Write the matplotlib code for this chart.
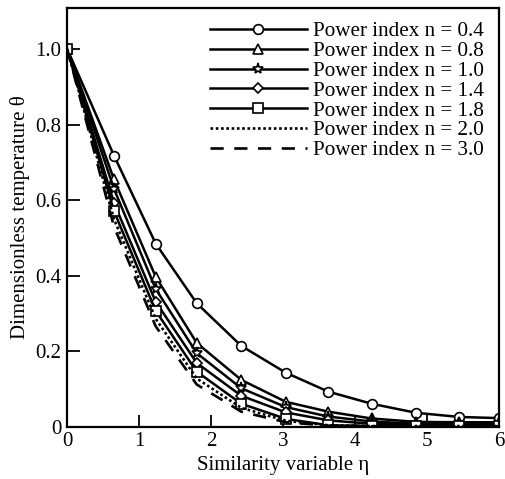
import numpy as np
import matplotlib
matplotlib.use('Agg')
import matplotlib.pyplot as plt

plt.rcParams['font.family'] = ['Liberation Serif', 'DejaVu Serif']
plt.rcParams['mathtext.fontset'] = 'stix'

# similarity variable at the marker positions
eta = [0.0, 0.65, 1.23, 1.8, 2.42, 3.04, 3.63, 4.23, 4.85, 5.45, 6.0]

# dimensionless temperature for each power index
theta_04 = [1.0, 0.718, 0.485, 0.327, 0.214, 0.143, 0.093, 0.061, 0.037, 0.026, 0.023]
theta_08 = [1.0, 0.655, 0.397, 0.222, 0.124, 0.066, 0.040, 0.022, 0.013, 0.012, 0.012]
theta_10 = [1.0, 0.630, 0.365, 0.195, 0.102, 0.052, 0.027, 0.014, 0.008, 0.008, 0.008]
theta_14 = [1.0, 0.593, 0.331, 0.169, 0.082, 0.038, 0.017, 0.008, 0.005, 0.005, 0.005]
theta_18 = [1.0, 0.571, 0.307, 0.146, 0.061, 0.021, 0.004, 0.002, 0.002, 0.003, 0.003]
theta_20 = [1.0, 0.550, 0.286, 0.128, 0.050, 0.016, 0.004, 0.002, 0.002, 0.002, 0.002]
theta_30 = [1.0, 0.530, 0.266, 0.112, 0.040, 0.012, 0.003, 0.001, 0.001, 0.001, 0.001]

labels = ['Power index n = 0.4', 'Power index n = 0.8', 'Power index n = 1.0',
          'Power index n = 1.4', 'Power index n = 1.8', 'Power index n = 2.0',
          'Power index n = 3.0']

fig = plt.figure(figsize=(5.05, 4.79), dpi=100)
ax = fig.add_axes([0.133, 0.109, 0.855, 0.874])

mk = dict(color='k', lw=1.8, mfc='white', mec='k', mew=1.2)
ax.plot(eta, theta_04, marker='o', ms=7, label=labels[0], **mk)
ax.plot(eta, theta_08, marker='^', ms=7, label=labels[1], **mk)
ax.plot(eta, theta_10, marker='*', ms=8, label=labels[2], **mk)
ax.plot(eta, theta_14, marker='D', ms=5, label=labels[3], **mk)
ax.plot(eta, theta_18, marker='s', ms=6.5, label=labels[4], **mk)
ax.plot(eta, theta_20, color='k', lw=1.9, ls=(0, (1, 1)), label=labels[5])
ax.plot(eta, theta_30, color='k', lw=1.9, ls=(0, (5, 4)), label=labels[6])

ax.set_xlim(0, 6)
ax.set_ylim(0, 1.108)
ax.set_xticks([0, 1, 2, 3, 4, 5, 6])
ax.set_yticks([0, 0.2, 0.4, 0.6, 0.8, 1.0])
ax.set_yticklabels(['0', '0.2', '0.4', '0.6', '0.8', '1.0'])
ax.tick_params(direction='in', length=9, width=1.3, labelsize=15, pad=4)
for s in ax.spines.values():
    s.set_linewidth(1.6)

ax.set_xlabel('Similarity variable η', fontsize=15, labelpad=3)
ax.set_ylabel('Dimensionless temperature θ', fontsize=15, labelpad=4)

ax.legend(loc='upper right', frameon=False, fontsize=15.2, handlelength=4.6,
          handletextpad=0.3, labelspacing=0.0, borderaxespad=0.3,
          bbox_to_anchor=(1.0, 1.003))

fig.savefig('out.png', dpi=100)
